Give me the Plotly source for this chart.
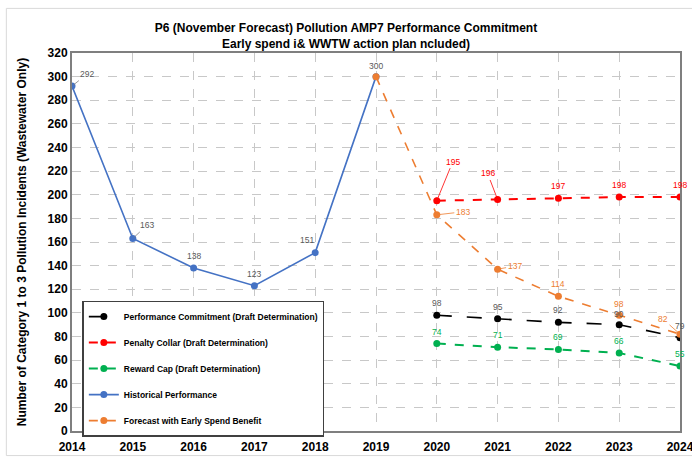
import plotly.graph_objects as go

# ---- data ----
hist_years = [2014, 2015, 2016, 2017, 2018, 2019]
hist_vals = [292, 163, 138, 123, 151, 300]

fc_years = [2019, 2020, 2021, 2022, 2023, 2024]
fc_vals = [300, 183, 137, 114, 98, 82]

amp_years = [2020, 2021, 2022, 2023, 2024]
pc_vals = [98, 95, 92, 90, 79]
collar_vals = [195, 196, 197, 198, 198]
cap_vals = [74, 71, 69, 66, 55]

names = [
    "Performance Commitment (Draft Determination)",
    "Penalty Collar (Draft Determination)",
    "Reward Cap (Draft Determination)",
    "Historical Performance",
    "Forecast with Early Spend Benefit",
]
title_lines = ["P6 (November Forecast) Pollution AMP7 Performance Commitment",
               "Early spend i& WWTW action plan ncluded)"]
y_title = "Number of Category 1 to 3 Pollution Incidents (Wastewater Only)"
x_ticks = list(range(2014, 2025))
y_ticks = list(range(0, 321, 20))

# ---- styles ----
BLUE, ORANGE, RED, GREEN, BLACK = "#4472C4", "#ED7D31", "#FF0000", "#00B050", "#000000"
GREY_TXT = "#595959"

fig = go.Figure()

series = [
    (amp_years, pc_vals, names[0], BLACK, "longdash", 1.6),
    (amp_years, collar_vals, names[1], RED, "dash", 2),
    (amp_years, cap_vals, names[2], GREEN, "dash", 2),
    (hist_years, hist_vals, names[3], BLUE, "solid", 1.6),
    (fc_years, fc_vals, names[4], ORANGE, "dash", 1.6),
]
for i, (xs, ys, nm, col, dash, w) in enumerate(series):
    fig.add_trace(go.Scatter(
        x=xs, y=ys, name="<b>" + nm + "</b>", mode="lines+markers",
        line=dict(color=col, dash=dash, width=w),
        marker=dict(color=col, size=7),
        legendgroup=f"g{i}",
    ))

# label offsets (pixels) per series: (ax, ay, leader)
def add_labels(xs, ys, col, offsets):
    for x, y, off in zip(xs, ys, offsets):
        ax, ay, leader = off
        if leader:
            fig.add_annotation(x=x, y=y, text=str(y), showarrow=True,
                               ax=ax, ay=ay, arrowhead=0, arrowwidth=0.8,
                               arrowcolor=col if col != GREY_TXT else "#7f7f7f",
                               standoff=2,
                               font=dict(size=8.5, color=col, family="Arial"))
        else:
            fig.add_annotation(x=x, y=y, text=str(y), showarrow=False,
                               xshift=ax, yshift=-ay,
                               font=dict(size=8.5, color=col, family="Arial"))

add_labels(hist_years, hist_vals, GREY_TXT,
           [(15, -12, True), (14, -13, True), (0, -12, False), (0, -12, False),
            (-8, -13, False), (0, -11, False)])
add_labels(fc_years[1:], fc_vals[1:], ORANGE,
           [(26, -3, True), (17, -3, True), (0, -12, False), (0, -11, False),
            (-17, -15, True)])
add_labels(amp_years, collar_vals, RED,
           [(16, -39, True), (-10, -26, True), (0, -12, False), (0, -12, False),
            (0, -12, False)])
add_labels(amp_years, pc_vals, GREY_TXT,
           [(0, -12, False), (0, -12, False), (0, -12, False), (0, -11, False),
            (0, -12, False)])
add_labels(amp_years, cap_vals, GREEN,
           [(0, -12, False), (0, -12, False), (0, -12, False), (0, -12, False),
            (0, -12, False)])

fig.update_layout(
    width=692, height=457,
    margin=dict(l=72, r=12, t=53, b=26, autoexpand=False),
    paper_bgcolor="white", plot_bgcolor="white",
    font=dict(family="Arial", color="#000000"),
    title=dict(text="<b>" + title_lines[0] + "<br>" + title_lines[1] + "</b>",
               x=0.5, xanchor="center", y=0.93, yanchor="middle",
               font=dict(size=12, family="Arial")),
    showlegend=True,
    legend=dict(x=0.017, y=0.345, xanchor="left", yanchor="top",
                bordercolor="#404040", borderwidth=1.5, bgcolor="white",
                font=dict(size=8.5, family="Arial", color="#000000"),
                tracegroupgap=7, itemwidth=30),
)
fig.update_xaxes(
    range=[2014, 2024], tickvals=x_ticks,
    ticktext=[f"<b>{t}</b>" for t in x_ticks],
    tickfont=dict(size=12), ticks="", ticklabelstandoff=4, automargin=False,
    ticklabeloverflow="allow",
    showgrid=True, gridcolor="#c8c8c8", griddash="dash", gridwidth=1,
    showline=True, linecolor="#7f7f7f", linewidth=2, mirror=True,
    zeroline=False,
)
fig.update_yaxes(
    range=[0, 320], tickvals=y_ticks,
    ticktext=[f"<b>{t}</b>" for t in y_ticks],
    tickfont=dict(size=12), ticks="", automargin=False,
    ticklabeloverflow="allow",
    showgrid=True, gridcolor="#c8c8c8", griddash="dash", gridwidth=1,
    showline=True, linecolor="#7f7f7f", linewidth=2, mirror=True,
    zeroline=False,
    title=dict(text="<b>" + y_title + "</b>", font=dict(size=12), standoff=18),
)

# outer chart frame
fig.add_shape(type="rect", xref="paper", yref="paper",
              x0=-0.108, x1=1.03, y0=-0.065, y1=1.118,
              line=dict(color="#d9d9d9", width=1), layer="below")

fig.write_html("out.html", config={"displayModeBar": False},
               post_script="document.body.style.margin='0';document.body.style.overflow='hidden';")
